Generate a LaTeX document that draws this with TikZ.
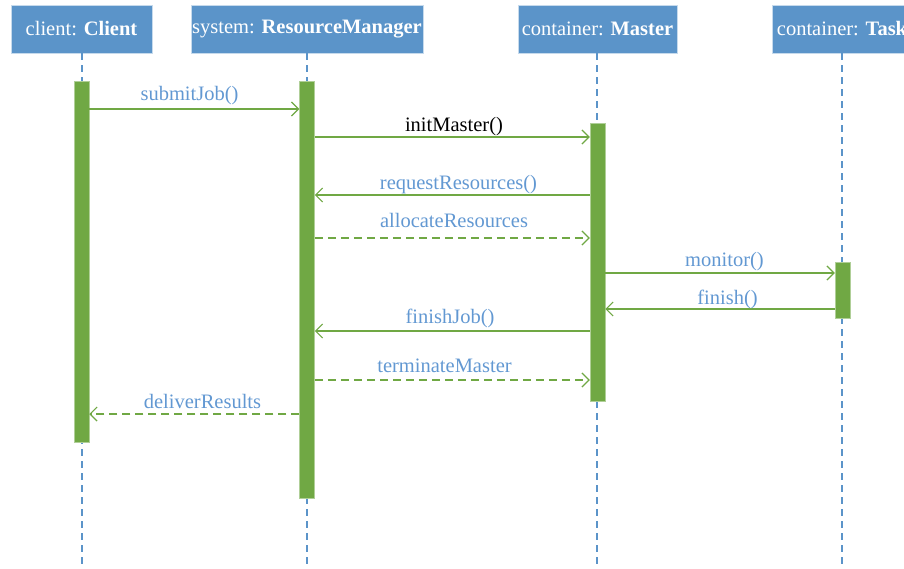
\documentclass[tikz,border=0pt]{standalone}
\usepackage{fontspec}
\setmainfont{Liberation Serif}
\usetikzlibrary{arrows.meta}
\definecolor{hdr}{RGB}{91,148,201}
\definecolor{act}{RGB}{112,168,68}
\definecolor{life}{RGB}{91,148,201}
\definecolor{lbl}{RGB}{98,152,210}
\begin{document}
\begin{tikzpicture}[x=1pt,y=-1pt,
  head/.style={fill=hdr, draw=hdr!35, line width=0.8pt, text=white,
    minimum height=48pt, inner sep=0pt, font=\fontsize{20.5}{24}\selectfont},
  bar/.style={fill=act, draw=act!55, line width=0.5pt, inner sep=0pt, minimum width=15pt},
  lifeline/.style={draw=life, dash pattern=on 7pt off 5pt, line width=1.2pt},
  msg/.style={draw=act, line width=1.2pt, -{Straight Barb[length=7pt,width=14pt,line width=1.2pt]}},
  reply/.style={msg, dash pattern=on 8pt off 5pt},
  lab/.style={text=lbl, font=\fontsize{20.5}{24}\selectfont, inner sep=0pt, anchor=base}
]
\useasboundingbox (0,0) rectangle (904,569);
\clip (0,0) rectangle (904,569);

% object heads
\node[head, minimum width=141pt] (client) at (81.5,29) {client: \textbf{Client}};
\node[head, minimum width=232pt] (rm) at (307,29) {system: \textbf{ResourceManager}};
\node[head, minimum width=159pt] (master) at (597.5,29) {container: \textbf{Master}};
\node[head, minimum width=140pt] (task) at (842,29) {container: \textbf{Task}};

% lifelines
\coordinate (clientEnd) at (82,569);
\coordinate (rmEnd) at (307,569);
\coordinate (masterEnd) at (597,569);
\coordinate (taskEnd) at (842,569);
\draw[lifeline] (client.south -| clientEnd) -- (clientEnd);
\draw[lifeline] (rm.south -| rmEnd) -- (rmEnd);
\draw[lifeline] (master.south -| masterEnd) -- (masterEnd);
\draw[lifeline] (task.south -| taskEnd) -- (taskEnd);

% activation bars
\node[bar, minimum height=361pt] (cbar) at (81.5,261.5) {};
\node[bar, minimum height=417pt] (rbar) at (307,289.5) {};
\node[bar, minimum height=278pt] (mbar) at (597.5,262) {};
\node[bar, minimum height=56pt] (tbar) at (842.5,290) {};

% messages
\draw[msg] (cbar.east |- 0,109) -- (rbar.west |- 0,109);
\node[lab] (l1) at (189.5,101) {submitJob()};

\draw[msg] (rbar.east |- 0,137) -- (mbar.west |- 0,137);
\node[lab, text=black] (l2) at (454,131.5) {initMaster()};

\draw[msg] (mbar.west |- 0,195) -- (rbar.east |- 0,195);
\node[lab] (l3) at (458.5,190) {requestResources()};

\draw[reply] (rbar.east |- 0,238) -- (mbar.west |- 0,238);
\node[lab] (l4) at (454,227.5) {allocateResources};

\draw[msg] (mbar.east |- 0,273) -- (tbar.west |- 0,273);
\node[lab] (l5) at (724.5,266) {monitor()};

\draw[msg] (tbar.west |- 0,309) -- (mbar.east |- 0,309);
\node[lab] (l6) at (727.5,304) {finish()};

\draw[msg] (mbar.west |- 0,331) -- (rbar.east |- 0,331);
\node[lab] (l7) at (450,323.5) {finishJob()};

\draw[reply] (rbar.east |- 0,380) -- (mbar.west |- 0,380);
\node[lab] (l8) at (444.5,372) {terminateMaster};

\draw[reply] (rbar.west |- 0,414) -- (cbar.east |- 0,414);
\node[lab] (l9) at (202.5,408) {deliverResults};
\end{tikzpicture}
\end{document}
